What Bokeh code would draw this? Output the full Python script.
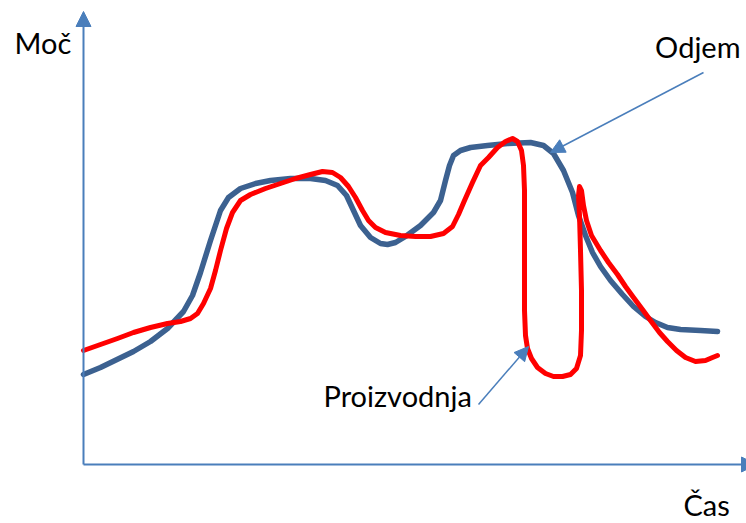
from bokeh.plotting import figure
from bokeh.models import Range1d, Arrow, NormalHead
from bokeh.core.properties import value
from bokeh.embed import file_html
from bokeh.resources import INLINE

# Odjem (consumption) curve: time, power
odjem_t = [0, 17, 50, 67, 84, 100, 109, 117, 127, 137, 145, 157, 172, 187, 207, 227, 242, 254, 263, 270,
           277, 287, 297, 304, 312, 322, 337, 350, 357, 362, 366, 370, 377, 387, 404, 424, 447, 460, 470, 480,
           489, 495, 502, 509, 517, 527, 539, 550, 562, 572, 584, 597, 617, 634]
odjem_p = [90, 97, 113, 123, 136, 153, 169, 192, 224, 254, 267, 276, 281, 284, 286, 286, 284, 279, 269, 254,
           239, 227, 221, 220, 222, 228, 239, 252, 264, 284, 299, 309, 314, 317, 319, 321, 322, 319, 311, 294,
           272, 249, 229, 212, 198, 184, 170, 158, 148, 142, 137, 135, 134, 133]

# Proizvodnja (production) curve: time, power
proiz_t = [0, 17, 34, 50, 67, 84, 97, 107, 114, 120, 127, 132, 137, 143, 149, 157, 167, 182, 197, 212,
           227, 239, 249, 257, 265, 272, 279, 285, 292, 302, 317, 332, 347, 360, 369, 375, 381, 389, 397, 405,
           414, 422, 429, 434, 438, 440, 441, 441, 441, 441, 442, 444, 448, 454, 462, 470, 479, 487, 493, 497,
           498, 498, 497, 496, 495, 496, 498, 500, 503, 508, 517, 525, 534, 542, 550, 559, 567, 576, 584, 593,
           602, 612, 622, 629, 634]
proiz_p = [114, 120, 126, 132, 137, 141, 143, 146, 151, 161, 176, 194, 214, 236, 252, 264, 270, 276, 281, 286,
           290, 293, 292, 287, 278, 267, 254, 244, 237, 232, 229, 228, 228, 231, 238, 250, 264, 282, 299, 307,
           317, 323, 326, 323, 314, 299, 274, 234, 194, 154, 129, 116, 106, 97, 91, 88, 88, 90, 96, 109,
           134, 174, 214, 249, 269, 278, 274, 259, 244, 229, 214, 202, 190, 178, 167, 155, 144, 132, 123, 114,
           107, 103, 104, 107, 109]

labels = ["Moč", "Odjem", "Proizvodnja", "Čas"]

AXIS = "#4A7EBB"
BLUE = "#3C6190"
RED = "#FF0000"

p = figure(width=746, height=523, output_backend="svg", toolbar_location=None,
           x_range=Range1d(-83, 663), y_range=Range1d(-59, 464), min_border=0)
p.axis.visible = False
p.grid.visible = False
p.outline_line_color = None
p.background_fill_color = "white"
p.border_fill_color = "white"

# axes with arrow heads
p.add_layout(Arrow(x_start=0, y_start=0, x_end=0, y_end=453, line_color=AXIS, line_width=2,
                   end=NormalHead(size=15, fill_color=AXIS, line_color=AXIS, line_width=1)))
p.add_layout(Arrow(x_start=0, y_start=0, x_end=673, y_end=0, line_color=AXIS, line_width=2,
                   end=NormalHead(size=15, fill_color=AXIS, line_color=AXIS, line_width=1)))

p.line(odjem_t, odjem_p, line_color=BLUE, line_width=5.5, line_join="round", line_cap="round")
p.line(proiz_t, proiz_p, line_color=RED, line_width=5, line_join="round", line_cap="round")

# annotation arrows
p.add_layout(Arrow(x_start=620, y_start=392, x_end=467, y_end=312, line_color=AXIS, line_width=1.5,
                   end=NormalHead(size=14, fill_color=AXIS, line_color=AXIS, line_width=1)))
p.add_layout(Arrow(x_start=395, y_start=60, x_end=445, y_end=118, line_color=AXIS, line_width=1.5,
                   end=NormalHead(size=14, fill_color=AXIS, line_color=AXIS, line_width=1)))

font = value("Lato")
fs = "29px"
p.text(x=[-69], y=[422], text=[labels[0]], text_font=font, text_font_size=fs,
       text_baseline="alphabetic", text_align="left", text_color="black")
p.text(x=[657], y=[418], text=[labels[1]], text_font=font, text_font_size=fs,
       text_baseline="alphabetic", text_align="right", text_color="black")
p.text(x=[240], y=[69], text=[labels[2]], text_font=font, text_font_size=fs,
       text_baseline="alphabetic", text_align="left", text_color="black")
p.text(x=[600], y=[-40], text=[labels[3]], text_font=font, text_font_size=fs,
       text_baseline="alphabetic", text_align="left", text_color="black")

open("out.html", "w").write(file_html(p, INLINE))
